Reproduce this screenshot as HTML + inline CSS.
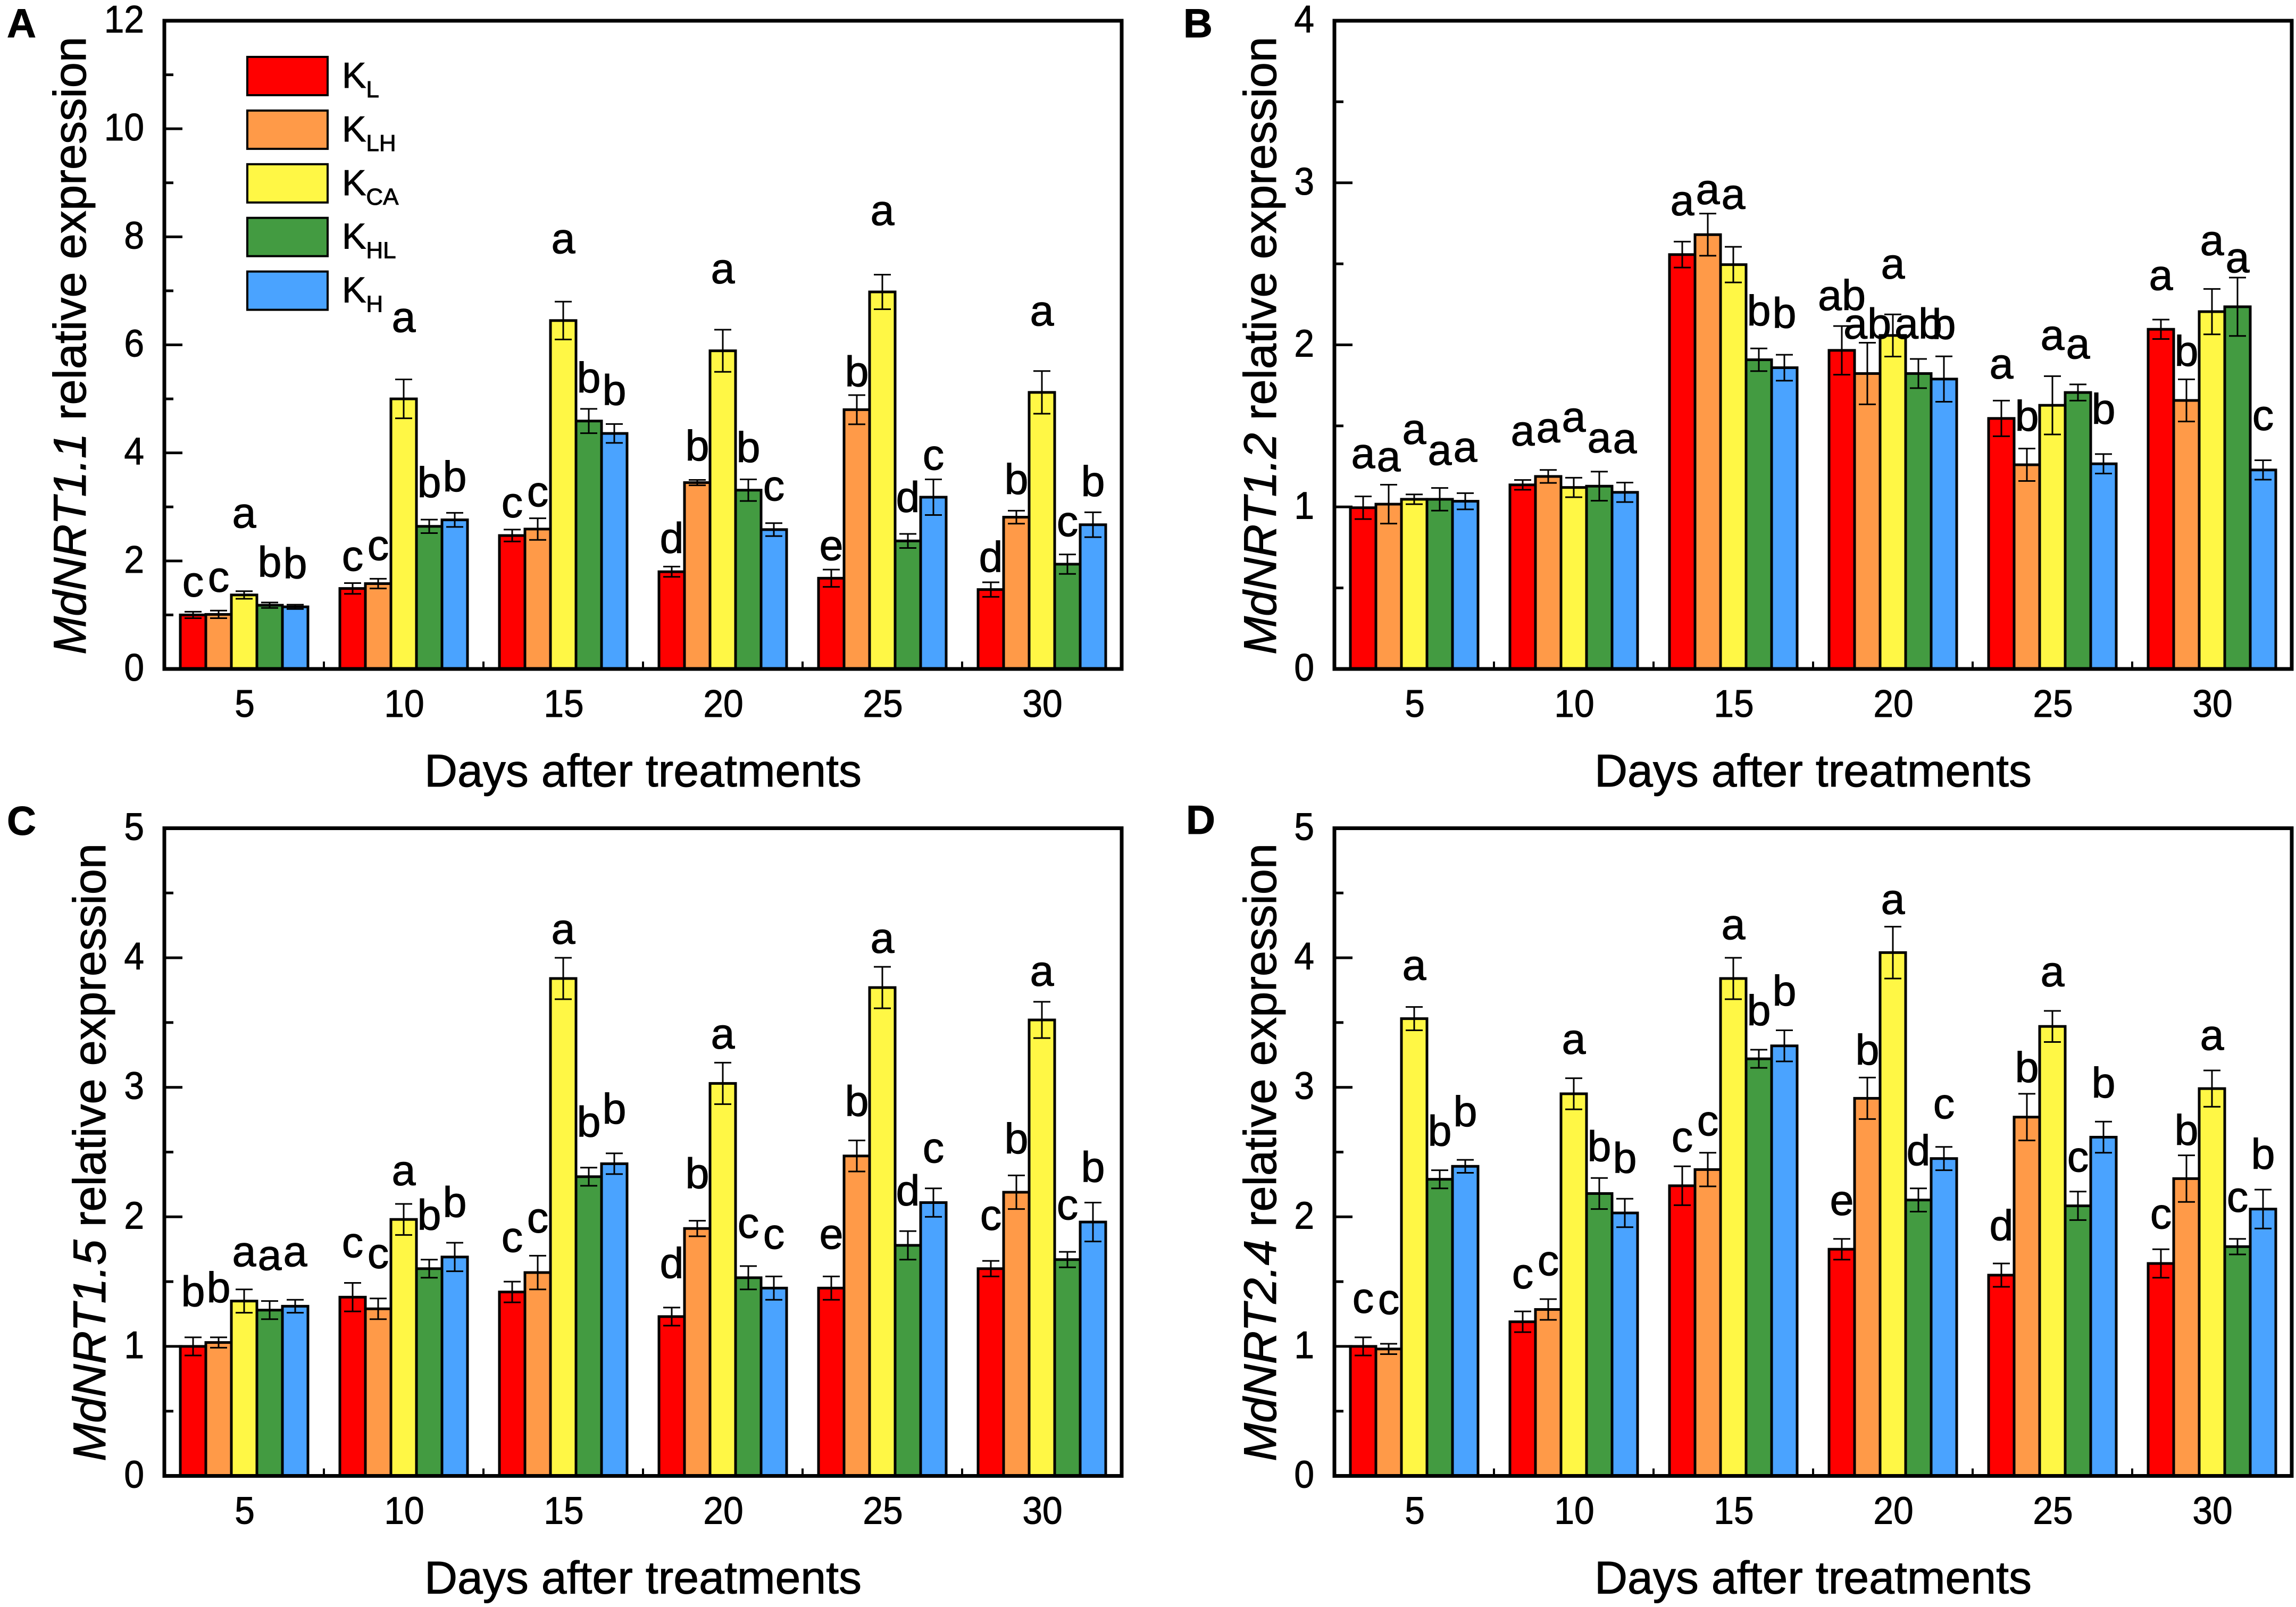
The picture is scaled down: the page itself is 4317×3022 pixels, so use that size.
<!DOCTYPE html>
<html lang="en">
<head>
<meta charset="utf-8">
<title>MdNRT relative expression</title>
<style>
html,body{margin:0;padding:0;background:#fff;width:4317px;height:3022px;overflow:hidden}
svg{display:block}
text{font-family:"Liberation Sans",sans-serif;fill:#000;stroke:#000;stroke-width:1}
</style>
</head>
<body>
<svg id="figure" xmlns="http://www.w3.org/2000/svg" width="4317" height="3022" viewBox="0 0 4317 3022">
<rect width="4317" height="3022" fill="#fff"/>
</svg>
<script>
const days = ['5','10','15','20','25','30'];
const seriesNames = ['L','LH','CA','HL','H'];
const seriesColors = ['#ff0000','#ff9a48','#fff745','#439b41','#4aa3ff'];

const aTicks = [0,2,4,6,8,10,12];
const aMeans = [
  [1.00,1.01,1.37,1.18,1.15],
  [1.49,1.58,5.00,2.64,2.76],
  [2.47,2.59,6.45,4.59,4.36],
  [1.80,3.45,5.89,3.31,2.58],
  [1.68,4.80,6.98,2.37,3.18],
  [1.47,2.81,5.12,1.94,2.67]];
const aErrors = [
  [0.06,0.07,0.07,0.05,0.04],
  [0.10,0.09,0.36,0.125,0.13],
  [0.11,0.20,0.35,0.225,0.175],
  [0.095,0.05,0.39,0.20,0.12],
  [0.16,0.27,0.32,0.13,0.33],
  [0.135,0.12,0.395,0.18,0.23]];
const aLetters = [
  ['c','c','a','b','b'],
  ['c','c','a','b','b'],
  ['c','c','a','b','b'],
  ['d','b','a','b','c'],
  ['e','b','a','d','c'],
  ['d','b','a','c','b']];
const aLetterLevels = [
  [1.345,1.43,2.62,1.71,1.68],
  [1.82,2.02,6.24,3.18,3.29],
  [2.81,3.01,7.70,5.12,4.89],
  [2.15,3.86,7.14,3.83,3.12],
  [2.02,5.23,8.22,2.91,3.69],
  [1.80,3.24,6.36,2.46,3.20]];

const bTicks = [0,1,2,3,4];
const bMeans = [
  [0.995,1.017,1.047,1.047,1.035],
  [1.136,1.188,1.12,1.128,1.09],
  [2.557,2.68,2.495,1.908,1.859],
  [1.966,1.823,2.058,1.823,1.789],
  [1.546,1.26,1.627,1.706,1.266],
  [2.096,1.657,2.205,2.235,1.228]];
const bErrors = [
  [0.07,0.12,0.03,0.07,0.05],
  [0.03,0.04,0.06,0.09,0.06],
  [0.08,0.13,0.11,0.07,0.08],
  [0.15,0.19,0.13,0.09,0.14],
  [0.11,0.10,0.18,0.05,0.06],
  [0.06,0.13,0.14,0.18,0.06]];
const bLetters = [
  ['a','a','a','a','a'],
  ['a','a','a','a','a'],
  ['a','a','a','b','b'],
  ['ab','ab','a','ab','b'],
  ['a','b','a','a','b'],
  ['a','b','a','a','c']];
const bLetterLevels = [
  [1.24,1.22,1.39,1.26,1.28],
  [1.38,1.40,1.465,1.337,1.333],
  [2.80,2.87,2.84,2.12,2.105],
  [2.215,2.04,2.41,2.04,2.036],
  [1.793,1.47,1.97,1.917,1.512],
  [2.34,1.87,2.554,2.448,1.475]];

const cTicks = [0,1,2,3,4,5];
const cMeans = [
  [1.00,1.03,1.35,1.28,1.31],
  [1.38,1.29,1.98,1.60,1.69],
  [1.42,1.57,3.84,2.31,2.41],
  [1.23,1.91,3.03,1.53,1.45],
  [1.45,2.47,3.77,1.78,2.11],
  [1.60,2.19,3.52,1.67,1.96]];
const cErrors = [
  [0.07,0.04,0.09,0.07,0.05],
  [0.11,0.08,0.12,0.07,0.11],
  [0.08,0.13,0.16,0.07,0.08],
  [0.07,0.06,0.16,0.09,0.09],
  [0.09,0.12,0.16,0.11,0.11],
  [0.06,0.13,0.14,0.06,0.15]];
const cLetters = [
  ['b','b','a','a','a'],
  ['c','c','a','b','b'],
  ['c','c','a','b','b'],
  ['d','b','a','c','c'],
  ['e','b','a','d','c'],
  ['c','b','a','c','b']];
const cLetterLevels = [
  [1.31,1.34,1.62,1.59,1.62],
  [1.69,1.605,2.245,1.90,2.00],
  [1.73,1.88,4.11,2.62,2.72],
  [1.53,2.22,3.30,1.84,1.755],
  [1.755,2.78,4.04,2.09,2.42],
  [1.90,2.49,3.785,1.98,2.27]];

const dTicks = [0,1,2,3,4,5];
const dMeans = [
  [1.00,0.98,3.53,2.29,2.39],
  [1.19,1.285,2.95,2.18,2.03],
  [2.24,2.365,3.84,3.22,3.32],
  [1.75,2.915,4.04,2.13,2.45],
  [1.55,2.77,3.47,2.085,2.615],
  [1.64,2.295,2.99,1.77,2.06]];
const dErrors = [
  [0.07,0.04,0.09,0.07,0.05],
  [0.08,0.08,0.12,0.12,0.11],
  [0.15,0.13,0.16,0.07,0.12],
  [0.08,0.16,0.20,0.09,0.09],
  [0.09,0.18,0.12,0.11,0.12],
  [0.11,0.18,0.14,0.06,0.15]];
const dLetters = [
  ['c','c','a','b','b'],
  ['c','c','a','b','b'],
  ['c','c','a','b','b'],
  ['e','b','a','d','c'],
  ['d','b','a','c','b'],
  ['c','b','a','c','b']];
const dLetterLevels = [
  [1.26,1.25,3.83,2.55,2.70],
  [1.45,1.55,3.26,2.43,2.34],
  [2.505,2.63,4.145,3.48,3.63],
  [2.015,3.175,4.34,2.40,2.76],
  [1.82,3.04,3.78,2.35,2.92],
  [1.91,2.555,3.29,2.04,2.37]];

const NS = 'http://www.w3.org/2000/svg';
const fig = document.getElementById('figure');

function make(tag, attrs, parent, txt) {
  const el = document.createElementNS(NS, tag);
  for (const k in attrs) el.setAttribute(k, attrs[k]);
  if (txt !== undefined) el.textContent = txt;
  (parent || fig).appendChild(el);
  return el;
}

function drawPanel(cfg) {
  const plotW = cfg.x1 - cfg.x0;
  const catW = plotW / days.length;
  const barW = catW * 0.8 / seriesNames.length;
  const yMax = cfg.ticks[cfg.ticks.length - 1];
  const sy = v => cfg.y0 - (v / yMax) * (cfg.y0 - cfg.y1);
  const sx = (g, s) => cfg.x0 + catW * (g + 0.5) + (s - 2.5) * barW;

  const g = make('g', {}, fig);
  
  

  const label = make('text', {x: cfg.labelX, y: cfg.labelY, 'font-size': 76, 'font-weight': 'bold'}, g, cfg.id);
  
  

  const title = make('text', {transform: 'translate(' + cfg.titleX + ',' + cfg.titleCY + ') rotate(-90)', 'text-anchor': 'middle', 'font-size': 86.5}, g);
  
  
  make('tspan', {'font-style': 'italic'}, title, cfg.gene);
  make('tspan', {}, title, ' relative expression');

  cfg.ticks.forEach((t, i) => {
    const major = make('line', {x1: cfg.x0, x2: cfg.x0 + 34, y1: sy(t), y2: sy(t), stroke: '#000', 'stroke-width': 5}, g);
    
    
    const lab = make('text', {transform: 'translate(' + (cfg.x0 - 38) + ',' + (sy(t) + 22) + ') scale(0.94,1)', 'text-anchor': 'end', 'font-size': 72}, g, String(t));
    
    
    if (i < cfg.ticks.length - 1) {
      const m = (t + cfg.ticks[i + 1]) / 2;
      const minor = make('line', {x1: cfg.x0, x2: cfg.x0 + 17, y1: sy(m), y2: sy(m), stroke: '#000', 'stroke-width': 5}, g);
      
      
    }
  });

  days.forEach((d, gi) => {
    if (gi > 0) {
      const xt = cfg.x0 + catW * gi;
      const tick = make('line', {x1: xt, x2: xt, y1: cfg.y0, y2: cfg.y0 - 14, stroke: '#000', 'stroke-width': 4}, g);
      
      
    }
    const xl = make('text', {transform: 'translate(' + (cfg.x0 + catW * (gi + 0.5) + 1) + ',' + (cfg.y0 + 90) + ') scale(0.94,1)', 'text-anchor': 'middle', 'font-size': 72}, g, d);
    
    

    seriesNames.forEach((name, si) => {
      const v = cfg.means[gi][si];
      const e = cfg.errors[gi][si];
      const bx = sx(gi, si);
      const cx = bx + barW / 2;
      const bar = make('rect', {x: bx, y: sy(v), width: barW, height: cfg.y0 - sy(v), fill: seriesColors[si], stroke: '#000', 'stroke-width': 5}, g);
      
      

      const errPath = 'M' + cx + ' ' + sy(v + e) + 'V' + sy(v - e) +
        'M' + (cx - 16) + ' ' + sy(v + e) + 'H' + (cx + 16) +
        'M' + (cx - 16) + ' ' + sy(v - e) + 'H' + (cx + 16);
      const err = make('path', {d: errPath, fill: 'none', stroke: '#000', 'stroke-width': 3}, g);
      
      
    });
  });

  days.forEach((d, gi) => {
    seriesNames.forEach((name, si) => {
      const t = make('text', {x: sx(gi, si) + barW / 2, y: sy(cfg.letterLevels[gi][si]), 'text-anchor': 'middle', 'font-size': 81}, g, cfg.letters[gi][si]);
      
      
    });
  });

  const frame = make('rect', {x: cfg.x0, y: cfg.y1, width: plotW, height: cfg.y0 - cfg.y1, fill: 'none', stroke: '#000', 'stroke-width': 7}, g);
  
  

  const xt = make('text', {x: cfg.x0 + plotW / 2, y: cfg.y0 + 221, 'text-anchor': 'middle', 'font-size': 86}, g, 'Days after treatments');
  
  
}

drawPanel({id:'A', gene:'MdNRT1.1', x0:309, x1:2109, y0:1258, y1:39, ticks:aTicks, means:aMeans, errors:aErrors, letters:aLetters, letterLevels:aLetterLevels, labelX:13, labelY:70, titleX:161, titleCY:650});
drawPanel({id:'B', gene:'MdNRT1.2', x0:2509, x1:4309, y0:1258, y1:39, ticks:bTicks, means:bMeans, errors:bErrors, letters:bLetters, letterLevels:bLetterLevels, labelX:2225, labelY:70, titleX:2399, titleCY:650});
drawPanel({id:'C', gene:'MdNRT1.5', x0:309, x1:2109, y0:2775.5, y1:1557.5, ticks:cTicks, means:cMeans, errors:cErrors, letters:cLetters, letterLevels:cLetterLevels, labelX:13, labelY:1570, titleX:198, titleCY:2167});
drawPanel({id:'D', gene:'MdNRT2.4', x0:2509, x1:4309, y0:2775.5, y1:1557.5, ticks:dTicks, means:dMeans, errors:dErrors, letters:dLetters, letterLevels:dLetterLevels, labelX:2230, labelY:1568, titleX:2399, titleCY:2167});

const legend = make('g', {}, fig);


seriesNames.forEach((name, i) => {
  const top = 107 + i * 100.9;
  const swatch = make('rect', {x: 465, y: top, width: 151, height: 72, fill: seriesColors[i], stroke: '#000', 'stroke-width': 4}, legend);
  
  
  const t = make('text', {x: 643, y: top + 58, 'font-size': 68}, legend, 'K');
  
  
  make('tspan', {dy: 18, 'font-size': 44}, t, name);
});
</script>
</body>
</html>
